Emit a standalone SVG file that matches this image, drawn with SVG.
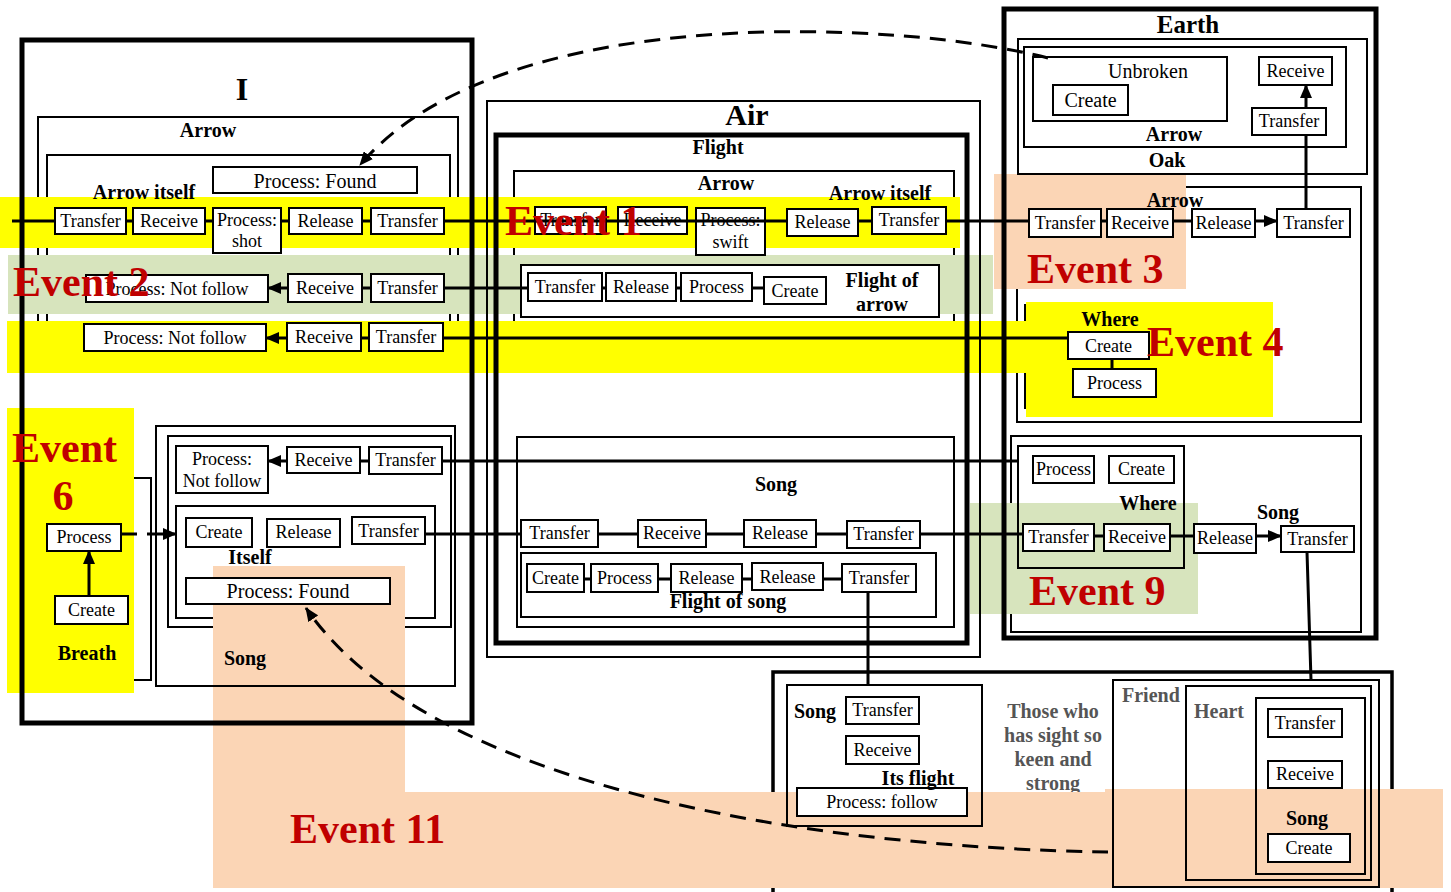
<svg xmlns="http://www.w3.org/2000/svg" width="1451" height="892" viewBox="0 0 1451 892">
<style>
text{font-family:"Liberation Serif","Times New Roman",serif}
.n rect{fill:#fff;stroke:#000;stroke-width:2}
.n text{font-size:18px;text-anchor:middle}
.n .big{font-size:20px}
.lb{font-size:20px;font-weight:bold;text-anchor:middle}
.gr{fill:#555}
.ct{fill:none;stroke:#000;stroke-width:2}
.ck{fill:none;stroke:#000;stroke-width:5}
.cn path{fill:none;stroke:#000;stroke-width:3}
.cn .d{stroke-dasharray:16 10}
.ev{font-size:42px;font-weight:bold;fill:#c00000}
.y{fill:#ffff00}.g{fill:#d7e4bd}.p{fill:#fbd5b5}
</style>
<defs>
<marker id="ah" viewBox="0 0 14 12" refX="13" refY="6" markerWidth="14" markerHeight="12" markerUnits="userSpaceOnUse" orient="auto"><path d="M0,0 L14,6 L0,12 z" fill="#000"/></marker>
</defs>
<rect width="1451" height="892" fill="#fff"/>

<!-- back containers -->
<g id="back-containers">
<g id="c-arrow-i"><rect class="ct" x="38" y="117" width="420" height="216"/></g>
<g id="c-arrowitself-i"><rect class="ct" x="47" y="155" width="403" height="172"/></g>
<g id="c-breath"><rect class="ct" x="20" y="478" width="131" height="202"/></g>
<g id="c-song-i-inner"><rect class="ct" x="168" y="436" width="283" height="191"/></g>
<g id="c-itself"><rect class="ct" x="176" y="506" width="259" height="112"/></g>
<g id="c-arrow-air"><rect class="ct" x="514" y="171" width="440" height="151"/></g>
<g id="c-arrow-e2"><rect class="ct" x="1017" y="187" width="344" height="235"/></g>
<g id="c-where4"><rect class="ct" x="1025" y="305" width="235" height="103"/></g>
<g id="c-earth-bottom"><rect class="ct" x="1011" y="436" width="350" height="196"/></g>
<g id="c-bottom"><rect x="773" y="672" width="619" height="240" fill="none" stroke="#000" stroke-width="3.5"/></g>
<g id="t-those">
<text class="lb gr" x="1053" y="718">Those who</text>
<text class="lb gr" x="1053" y="742">has sight so</text>
<text class="lb gr" x="1053" y="766">keen and</text>
<text class="lb gr" x="1053" y="790">strong</text>
</g>
</g>

<!-- highlights -->
<g id="highlights">
<rect class="y" x="0" y="197" width="960" height="51"/>
<rect class="g" x="8" y="255" width="985" height="59"/>
<rect class="p" x="994" y="174" width="192" height="115"/>
<rect class="y" x="7" y="321" width="1019" height="52"/>
<rect class="y" x="1026" y="302" width="247" height="115"/>
<rect class="y" x="7" y="408" width="127" height="285"/>
<rect class="g" x="970" y="503" width="228" height="111"/>
<rect class="p" x="213" y="566" width="192" height="322"/>
<rect class="p" x="213" y="792" width="1230" height="96"/>
<rect class="p" x="1105" y="789" width="338" height="6"/>
</g>

<!-- front containers -->
<g id="front-containers">
<g id="c-i"><rect class="ck" x="22" y="40" width="450" height="683"/></g>
<g id="c-air"><rect class="ct" x="487" y="101" width="493" height="556"/></g>
<g id="c-flight"><rect class="ck" x="496" y="135" width="471" height="508"/></g>
<g id="c-flight-arrow"><rect x="521" y="265" width="418" height="52" fill="#fff" stroke="#000" stroke-width="2"/></g>
<g id="c-song-air"><rect class="ct" x="517" y="437" width="437" height="190"/></g>
<g id="c-flight-song"><rect class="ct" x="521" y="553" width="415" height="64"/></g>
<g id="c-earth"><rect class="ck" x="1004" y="9" width="372" height="629"/></g>
<g id="c-oak"><rect class="ct" x="1018" y="39" width="349" height="135"/></g>
<g id="c-arrow-e1"><rect class="ct" x="1024" y="47" width="322" height="100"/></g>
<g id="c-unbroken"><rect class="ct" x="1033" y="57" width="194" height="64"/></g>
<g id="c-where9"><rect class="ct" x="1018" y="446" width="166" height="122"/></g>
<g id="c-song-i"><rect class="ct" x="156" y="426" width="299" height="260"/></g>
<g id="c-song-b"><rect class="ct" x="787" y="685" width="195" height="141"/></g>
<g id="c-friend"><rect class="ct" x="1113" y="680" width="266" height="207"/></g>
<g id="c-heart"><rect class="ct" x="1186" y="686" width="185" height="194"/></g>
<g id="c-song-h"><rect class="ct" x="1256" y="698" width="109" height="176"/></g>
</g>

<!-- nodes -->
<g id="nodes">
<g id="n-i-found" class="n"><rect x="213" y="167" width="204" height="26"/><text class="big" x="315" y="188">Process: Found</text></g>
<g id="n-i-transfer1" class="n"><rect x="55" y="208" width="71" height="26"/><text x="90.5" y="227">Transfer</text></g>
<g id="n-i-receive1" class="n"><rect x="133" y="208" width="72" height="26"/><text x="169" y="227">Receive</text></g>
<g id="n-i-shot" class="n"><rect x="213" y="208" width="68" height="45"/><text x="247" y="226">Process:</text><text x="247" y="247">shot</text></g>
<g id="n-i-release1" class="n"><rect x="289" y="208" width="73" height="26"/><text x="325.5" y="227">Release</text></g>
<g id="n-i-transfer2" class="n"><rect x="371" y="208" width="73" height="26"/><text x="407.5" y="227">Transfer</text></g>

<g id="n-i-notfollow1" class="n"><rect x="86" y="275" width="182" height="27"/><text x="177" y="295">Process: Not follow</text></g>
<g id="n-i-receive2" class="n"><rect x="288" y="274" width="74" height="28"/><text x="325" y="294">Receive</text></g>
<g id="n-i-transfer3" class="n"><rect x="371" y="274" width="73" height="28"/><text x="407.5" y="294">Transfer</text></g>

<g id="n-i-notfollow2" class="n"><rect x="84" y="324" width="182" height="27"/><text x="175" y="344">Process: Not follow</text></g>
<g id="n-i-receive3" class="n"><rect x="287" y="323" width="74" height="28"/><text x="324" y="343">Receive</text></g>
<g id="n-i-transfer4" class="n"><rect x="369" y="323" width="74" height="28"/><text x="406" y="343">Transfer</text></g>

<g id="n-i-notfollow3" class="n"><rect x="176" y="446" width="92" height="47"/><text x="222" y="465">Process:</text><text x="222" y="487">Not follow</text></g>
<g id="n-i-receive4" class="n"><rect x="287" y="447" width="73" height="26"/><text x="323.5" y="466">Receive</text></g>
<g id="n-i-transfer5" class="n"><rect x="369" y="447" width="73" height="27"/><text x="405.5" y="466">Transfer</text></g>
<g id="n-itself-create" class="n"><rect x="186" y="518" width="66" height="29"/><text x="219" y="538">Create</text></g>
<g id="n-itself-release" class="n"><rect x="267" y="519" width="73" height="28"/><text x="303.5" y="538">Release</text></g>
<g id="n-itself-transfer" class="n"><rect x="352" y="517" width="73" height="27"/><text x="388.5" y="537">Transfer</text></g>
<g id="n-itself-found" class="n"><rect x="186" y="578" width="204" height="26"/><text class="big" x="288" y="598">Process: Found</text></g>

<g id="n-breath-process" class="n"><rect x="47" y="524" width="74" height="27"/><text x="84" y="543">Process</text></g>
<g id="n-breath-create" class="n"><rect x="55" y="596" width="73" height="28"/><text x="91.5" y="616">Create</text></g>

<g id="n-air-transfer1" class="n"><rect x="535" y="207" width="71" height="27"/><text x="570.5" y="226">Transfer</text></g>
<g id="n-air-receive1" class="n"><rect x="618" y="207" width="69" height="27"/><text x="652.5" y="226">Receive</text></g>
<g id="n-air-swift" class="n"><rect x="696" y="208" width="69" height="47"/><text x="730.5" y="226">Process:</text><text x="730.5" y="248">swift</text></g>
<g id="n-air-release1" class="n"><rect x="787" y="209" width="71" height="27"/><text x="822.5" y="228">Release</text></g>
<g id="n-air-transfer2" class="n"><rect x="872" y="207" width="74" height="27"/><text x="909" y="226">Transfer</text></g>

<g id="n-fa-transfer" class="n"><rect x="528" y="273" width="74" height="28"/><text x="565" y="293">Transfer</text></g>
<g id="n-fa-release" class="n"><rect x="606" y="273" width="70" height="28"/><text x="641" y="293">Release</text></g>
<g id="n-fa-process" class="n"><rect x="681" y="273" width="71" height="28"/><text x="716.5" y="293">Process</text></g>
<g id="n-fa-create" class="n"><rect x="764" y="277" width="62" height="27"/><text x="795" y="297">Create</text></g>

<g id="n-sa-transfer1" class="n"><rect x="521" y="520" width="77" height="27"/><text x="559.5" y="539">Transfer</text></g>
<g id="n-sa-receive" class="n"><rect x="638" y="520" width="68" height="27"/><text x="672" y="539">Receive</text></g>
<g id="n-sa-release" class="n"><rect x="744" y="520" width="72" height="27"/><text x="780" y="539">Release</text></g>
<g id="n-sa-transfer2" class="n"><rect x="847" y="521" width="73" height="27"/><text x="883.5" y="540">Transfer</text></g>

<g id="n-fs-create" class="n"><rect x="527" y="564" width="57" height="28"/><text x="555.5" y="584">Create</text></g>
<g id="n-fs-process" class="n"><rect x="591" y="564" width="67" height="28"/><text x="624.5" y="584">Process</text></g>
<g id="n-fs-release1" class="n"><rect x="671" y="564" width="71" height="28"/><text x="706.5" y="584">Release</text></g>
<g id="n-fs-release2" class="n"><rect x="752" y="563" width="71" height="27"/><text x="787.5" y="583">Release</text></g>
<g id="n-fs-transfer" class="n"><rect x="842" y="564" width="74" height="28"/><text x="879" y="584">Transfer</text></g>

<g id="n-e-create1" class="n"><rect x="1053" y="85" width="75" height="30"/><text class="big" x="1090.5" y="107">Create</text></g>
<g id="n-e-receive1" class="n"><rect x="1259" y="57" width="73" height="28"/><text x="1295.5" y="77">Receive</text></g>
<g id="n-e-transfer1" class="n"><rect x="1252" y="108" width="74" height="27"/><text x="1289" y="127">Transfer</text></g>
<g id="n-e-transfer2" class="n"><rect x="1029" y="209" width="72" height="28"/><text x="1065" y="229">Transfer</text></g>
<g id="n-e-receive2" class="n"><rect x="1107" y="209" width="66" height="28"/><text x="1140" y="229">Receive</text></g>
<g id="n-e-release1" class="n"><rect x="1192" y="209" width="63" height="28"/><text x="1223.5" y="229">Release</text></g>
<g id="n-e-transfer3" class="n"><rect x="1277" y="209" width="73" height="28"/><text x="1313.5" y="229">Transfer</text></g>
<g id="n-e-create2" class="n"><rect x="1068" y="332" width="81" height="27"/><text x="1108.5" y="352">Create</text></g>
<g id="n-e-process2" class="n"><rect x="1073" y="369" width="83" height="28"/><text x="1114.5" y="389">Process</text></g>
<g id="n-e-process3" class="n"><rect x="1033" y="456" width="61" height="27"/><text x="1063.5" y="475">Process</text></g>
<g id="n-e-create3" class="n"><rect x="1109" y="456" width="65" height="27"/><text x="1141.5" y="475">Create</text></g>
<g id="n-e-transfer4" class="n"><rect x="1023" y="524" width="71" height="27"/><text x="1058.5" y="543">Transfer</text></g>
<g id="n-e-receive4" class="n"><rect x="1104" y="524" width="66" height="27"/><text x="1137" y="543">Receive</text></g>
<g id="n-e-release4" class="n"><rect x="1194" y="524" width="62" height="29"/><text x="1225" y="544">Release</text></g>
<g id="n-e-transfer5" class="n"><rect x="1281" y="526" width="73" height="26"/><text x="1317.5" y="545">Transfer</text></g>

<g id="n-b-transfer" class="n"><rect x="846" y="697" width="73" height="27"/><text x="882.5" y="716">Transfer</text></g>
<g id="n-b-receive" class="n"><rect x="846" y="736" width="73" height="28"/><text x="882.5" y="756">Receive</text></g>
<g id="n-b-follow" class="n"><rect x="797" y="788" width="170" height="28"/><text x="882" y="808">Process: follow</text></g>
<g id="n-h-transfer" class="n"><rect x="1268" y="709" width="74" height="28"/><text x="1305" y="729">Transfer</text></g>
<g id="n-h-receive" class="n"><rect x="1268" y="761" width="74" height="27"/><text x="1305" y="780">Receive</text></g>
<g id="n-h-create" class="n"><rect x="1268" y="834" width="82" height="28"/><text x="1309" y="854">Create</text></g>
</g>

<!-- connectors -->
<g id="connectors" class="cn">
<path d="M12,221 H55 M126,221 H133 M205,221 H213 M281,221 H289 M362,221 H371 M444,221 H787 M858,221 H872 M946,221 H1029 M1101,221 H1107 M1173,221 H1192"/>
<path d="M1255,221 H1277" marker-end="url(#ah)"/>
<path d="M1306,209 V135"/>
<path d="M1306,108 V85" marker-end="url(#ah)"/>
<path d="M288,288 H268" marker-end="url(#ah)"/>
<path d="M362,288 H371 M444,288 H528 M602,288 H606 M676,288 H681 M752,288 H764"/>
<path d="M287,338 H266" marker-end="url(#ah)"/>
<path d="M361,338 H369 M443,338 H1068 M1112,359 V369"/>
<path d="M287,461 H268" marker-end="url(#ah)"/>
<path d="M360,461 H369 M442,461 H1018"/>
<path class="d" d="M121,534 H176" marker-end="url(#ah)"/>
<path d="M89,596 V551" marker-end="url(#ah)"/>
<path d="M425,534 H521 M598,534 H638 M706,534 H744 M816,534 H847 M920,534 H1023 M1094,536 H1104 M1170,536 H1194"/>
<path d="M1256,536 H1281" marker-end="url(#ah)"/>
<path d="M584,579 H591 M658,579 H671 M742,579 H752 M823,579 H842 M868,592 V685 M1307,552 L1311,680"/>
<path class="d" d="M1048,58 C900,20 500,0 360,165" marker-end="url(#ah)"/>
<path class="d" d="M1108,852 C820,848 430,790 306,608" marker-end="url(#ah)"/>
</g>

<!-- labels -->
<g id="labels">
<text class="lb" x="242" y="100" style="font-size:32px">I</text>
<text class="lb" x="208" y="137">Arrow</text>
<text class="lb" x="144" y="199">Arrow itself</text>
<text class="lb" x="87" y="660">Breath</text>
<text class="lb" x="245" y="665">Song</text>
<text class="lb" x="250" y="564">Itself</text>
<text class="lb" x="747" y="125" style="font-size:30px">Air</text>
<text class="lb" x="718" y="154">Flight</text>
<text class="lb" x="726" y="190">Arrow</text>
<text class="lb" x="880" y="200">Arrow itself</text>
<text class="lb" x="882" y="287">Flight of</text>
<text class="lb" x="882" y="311">arrow</text>
<text class="lb" x="776" y="491">Song</text>
<text class="lb" x="728" y="608">Flight of song</text>
<text class="lb" x="1188" y="33" style="font-size:25px">Earth</text>
<text class="lb" x="1174" y="141">Arrow</text>
<text class="lb" x="1167" y="167">Oak</text>
<text x="1148" y="78" style="font-size:20px;text-anchor:middle">Unbroken</text>
<text class="lb" x="1175" y="207">Arrow</text>
<text class="lb" x="1110" y="326">Where</text>
<text class="lb" x="1148" y="510">Where</text>
<text class="lb" x="1278" y="519">Song</text>
<text class="lb" x="815" y="718">Song</text>
<text class="lb" x="918" y="785">Its flight</text>
<text class="lb gr" x="1122" y="702" style="text-anchor:start">Friend</text>
<text class="lb gr" x="1194" y="718" style="text-anchor:start">Heart</text>
<text class="lb" x="1307" y="825">Song</text>
</g>

<!-- event labels -->
<g id="events">
<text class="ev" x="505" y="235">Event 1</text>
<text class="ev" x="13" y="296">Event 2</text>
<text class="ev" x="1027" y="283">Event 3</text>
<text class="ev" x="1147" y="356">Event 4</text>
<text class="ev" x="12" y="462">Event</text>
<text class="ev" x="63" y="510" style="text-anchor:middle">6</text>
<text class="ev" x="1029" y="605">Event 9</text>
<text class="ev" x="290" y="843">Event 11</text>
</g>
</svg>
